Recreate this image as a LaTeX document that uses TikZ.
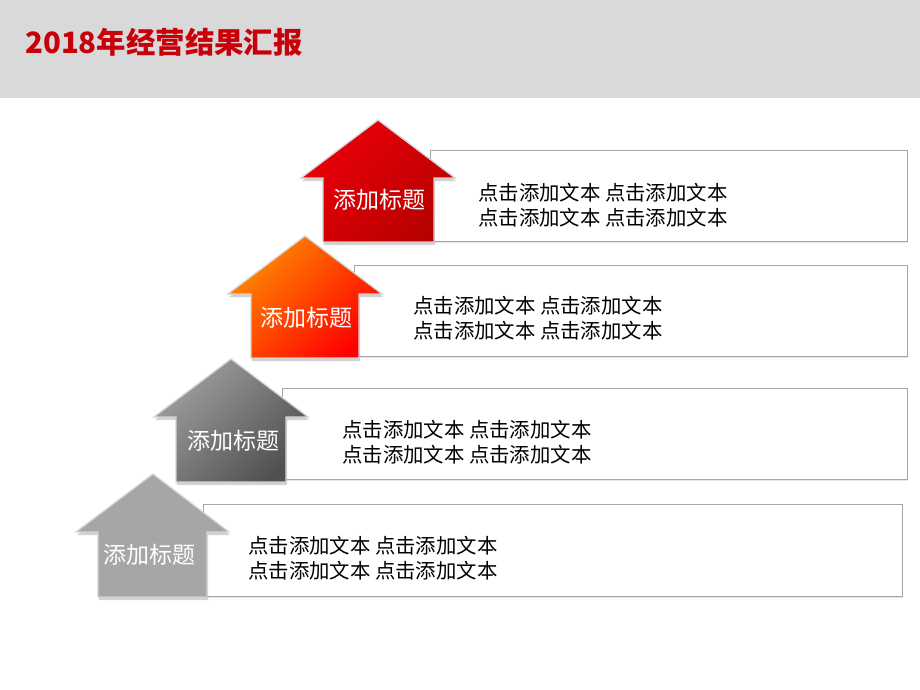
\documentclass[tikz,border=0pt]{standalone}
\usepackage{fontspec}
\newfontfamily\cjk{Noto Sans CJK SC}
\usetikzlibrary{shadows}
\definecolor{headgray}{HTML}{D9D9D9}
\definecolor{titlered}{HTML}{C8000A}
\definecolor{boxline}{HTML}{A6A6A6}
\definecolor{arrowline}{HTML}{D4D4D4}
\definecolor{redA}{HTML}{EB000A}
\definecolor{redB}{HTML}{B80000}
\definecolor{orgA}{HTML}{FF8C00}
\definecolor{orgB}{HTML}{FF0000}
\definecolor{gryA}{HTML}{A0A0A0}
\definecolor{gryB}{HTML}{505050}
\definecolor{gryC}{HTML}{A6A6A6}
\tikzset{
  arrowshape/.style={draw=arrowline, line width=1.3pt, line join=miter,
    drop shadow={shadow xshift=1pt, shadow yshift=-3pt, opacity=0.35}},
  infobox/.style={draw=boxline, line width=0.9pt, fill=white, anchor=north west,
    inner sep=0pt, outer sep=0pt,
    drop shadow={shadow xshift=1.2pt, shadow yshift=-1.5pt, opacity=0.2}},
  bodytext/.style={font=\cjk\fontsize{20.4}{25}\selectfont, align=left,
    anchor=west, text=black, inner sep=0pt},
  arrowlabel/.style={font=\cjk\fontsize{23}{26}\selectfont, text=white, inner sep=0pt},
  titletext/.style={font=\cjk\bfseries\fontsize{29.4}{32}\selectfont, text=titlered,
    anchor=west, inner sep=0pt}
}
\begin{document}
\begin{tikzpicture}[x=1pt, y=-1pt]
\useasboundingbox (0,0) rectangle (920,690);
% header band
\fill[headgray] (0,0) rectangle (920,98);
\node[titletext] (title) at (25,42) {2018年经营结果汇报};

% boxes
\node[infobox, minimum width=477pt, minimum height=91pt] (box1) at (430,150) {};
\node[infobox, minimum width=553pt, minimum height=91pt] (box2) at (354,265) {};
\node[infobox, minimum width=625pt, minimum height=91pt] (box3) at (282,388) {};
\node[infobox, minimum width=699pt, minimum height=92pt] (box4) at (203,504) {};

% box texts
\node[bodytext] (t1) at (478,205) {点击添加文本 点击添加文本\\点击添加文本 点击添加文本};
\node[bodytext] (t2) at (413,318.5) {点击添加文本 点击添加文本\\点击添加文本 点击添加文本};
\node[bodytext] (t3) at (342,442.5) {点击添加文本 点击添加文本\\点击添加文本 点击添加文本};
\node[bodytext] (t4) at (248,558) {点击添加文本 点击添加文本\\点击添加文本 点击添加文本};

% arrows
\path[arrowshape, top color=redA, bottom color=redB, shading angle=45]
  (378,120) -- (455,178) -- (434,178) -- (434,242) -- (323,242) -- (323,178) -- (301,178) -- cycle;
\path[arrowshape, top color=orgA, bottom color=orgB, shading angle=45]
  (305,236) -- (382,294) -- (359,294) -- (359,358) -- (251,358) -- (251,294) -- (228,294) -- cycle;
\path[arrowshape, top color=gryA, bottom color=gryB, shading angle=45]
  (231,359) -- (308,417) -- (286,417) -- (286,482) -- (176,482) -- (176,417) -- (154,417) -- cycle;
\path[arrowshape, fill=gryC]
  (153,474) -- (229,532) -- (207,532) -- (207,597) -- (98,597) -- (98,532) -- (76,532) -- cycle;

% arrow labels
\node[arrowlabel] (l1) at (379.5,200) {添加标题};
\node[arrowlabel] (l2) at (306,318) {添加标题};
\node[arrowlabel] (l3) at (233,441) {添加标题};
\node[arrowlabel] (l4) at (149,555) {添加标题};
\end{tikzpicture}
\end{document}
